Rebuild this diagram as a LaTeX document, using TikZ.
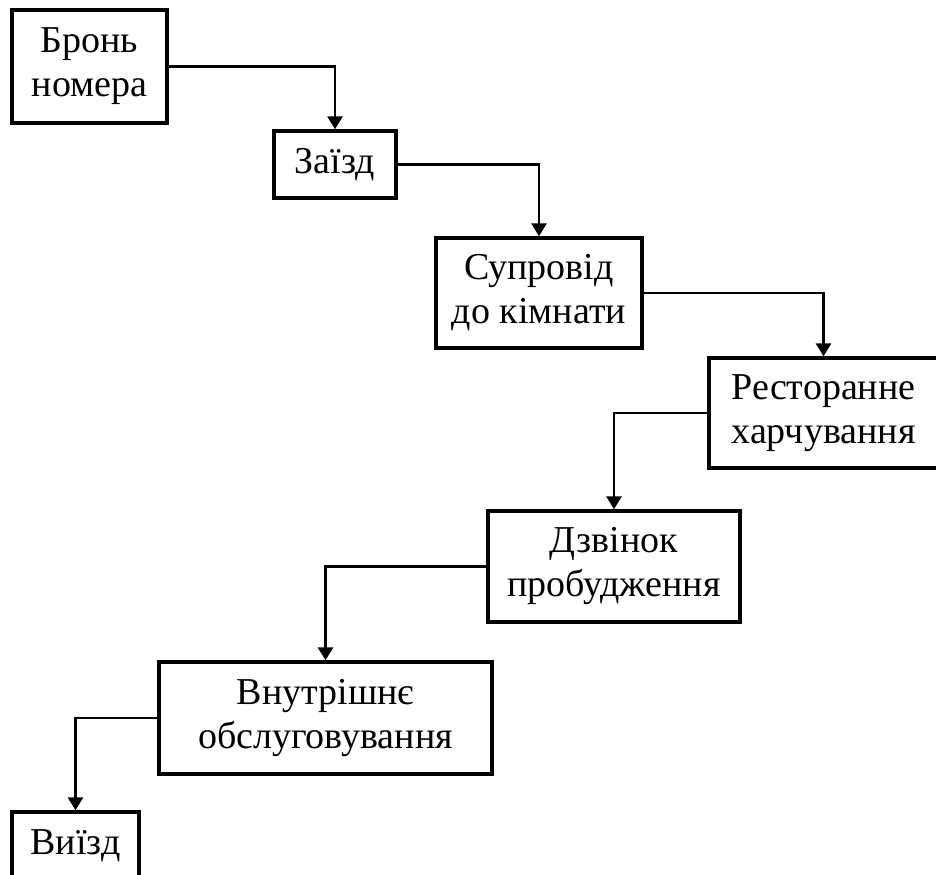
\documentclass[tikz,border=0pt]{standalone}
\usepackage{fontspec}
\setmainfont{Liberation Serif}
\usetikzlibrary{arrows.meta}
\tikzset{
  stage/.style={draw, line width=1.7pt, align=center, inner sep=0pt,
    font=\fontsize{19}{22}\selectfont},
  flow/.style={-{Triangle[length=6.5pt,width=7.5pt]}, line width=1.4pt},
}
\begin{document}
\begin{tikzpicture}[x=0.5pt,y=-0.5pt]
			\useasboundingbox (0,0) rectangle (936,874);

			\node[stage, minimum width=77.5pt, minimum height=56.5pt] (b1) at (89.5,66.5) {Бронь\\номера};
			\node[stage, minimum width=61pt, minimum height=33.5pt] (b2) at (335,164.5) {Заїзд};
			\node[stage, minimum width=103pt, minimum height=55pt] (b3) at (539,293) {Супровід\\до кімнати};
			\node[stage, minimum width=114.5pt, minimum height=55pt] (b4) at (823.5,413) {Ресторанне\\харчування};
			\node[stage, minimum width=126pt, minimum height=55.5pt] (b5) at (614,566.5) {Дзвінок\\пробудження};
			\node[stage, minimum width=166.5pt, minimum height=56pt] (b6) at (325.5,718) {Внутрішнє\\обслуговування};
			\node[stage, minimum width=63.5pt, minimum height=33.5pt] (b7) at (75.5,845.5) {Виїзд};

			\draw[flow] (b1.east) -| (b2.north);
			\draw[flow] (b2.east) -| (b3.north);
			\draw[flow] (b3.east) -| (b4.north);
			\draw[flow] (b4.west) -| (b5.north);
			\draw[flow] (b5.west) -| (b6.north);
			\draw[flow] (b6.west) -| (b7.north);
\end{tikzpicture}
\end{document}
